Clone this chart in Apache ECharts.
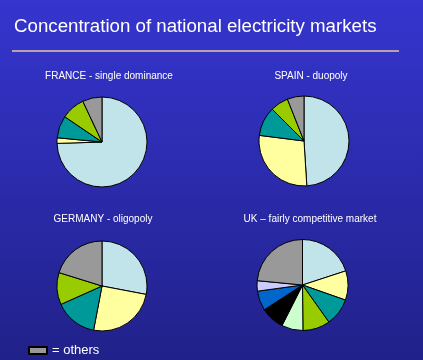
<!DOCTYPE html>
<html><head><meta charset="utf-8">
<script src="https://cdn.jsdelivr.net/npm/echarts@6/dist/echarts.min.js"></script>
<style>html,body{margin:0;padding:0;background:#2a2aa8}#c{width:423px;height:360px}</style>
</head><body><div id="c"></div>
<script>
const mainTitle = 'Concentration of national electricity markets';
const pieTitles = ['FRANCE - single dominance', 'SPAIN - duopoly', 'GERMANY - oligopoly', 'UK \u2013 fairly competitive market'];
const franceNames = ['Firm 1', 'Firm 2', 'Firm 3', 'Firm 4', 'others'];
const franceValues = [74.5, 2, 8, 8.5, 7];
const spainNames = ['Firm 1', 'Firm 2', 'Firm 3', 'Firm 4', 'others'];
const spainValues = [49, 28, 10.5, 6.5, 6];
const germanyNames = ['Firm 1', 'Firm 2', 'Firm 3', 'Firm 4', 'others'];
const germanyValues = [28, 25, 15.3, 11.5, 20.2];
const ukNames = ['Firm 1', 'Firm 2', 'Firm 3', 'Firm 4', 'Firm 5', 'Firm 6', 'Firm 7', 'Firm 8', 'others'];
const ukValues = [20, 10.4, 9.8, 9.7, 7.6, 8.4, 7, 3.7, 23.5];
const legendLabel = '= others';

const sliceColors = ['#c0e4ea', '#ffffa0', '#009999', '#99cc00', '#ccffcc', '#000000', '#0066cc', '#ccccff'];
const othersColor = '#999999';

function buildData(names, values) {
  return names.map((n, i) => ({
    name: n, value: values[i],
    itemStyle: { color: n === 'others' ? othersColor : sliceColors[i] }
  }));
}

const pies = [
  { names: franceNames, values: franceValues, center: [102, 142], r: 45, tx: 109, ty: 71 },
  { names: spainNames, values: spainValues, center: [304, 141], r: 45, tx: 311, ty: 71 },
  { names: germanyNames, values: germanyValues, center: [102, 286], r: 45, tx: 103, ty: 214 },
  { names: ukNames, values: ukValues, center: [302.5, 285], r: 45.5, tx: 310, ty: 214 }
];

const chart = echarts.init(document.getElementById('c'), null, { renderer: 'canvas' });
const titles = [{
  text: mainTitle, left: 14, top: 17, padding: 0,
  textStyle: { color: '#ffffff', fontSize: 18.7, fontWeight: 'normal', fontFamily: 'Liberation Sans, Arial, sans-serif' }
}];
pies.forEach((p, i) => titles.push({
  text: pieTitles[i], left: p.tx, top: p.ty, padding: 0, textAlign: 'center',
  textStyle: { color: '#ffffff', fontSize: 10, fontWeight: 'normal', fontFamily: 'Liberation Sans, Arial, sans-serif' }
}));

chart.setOption({
  animation: false,
  backgroundColor: {
    type: 'linear', x: 0, y: 0, x2: 0, y2: 1,
    colorStops: [{ offset: 0, color: '#3535cf' }, { offset: 1, color: '#21218a' }]
  },
  title: titles,
  graphic: [
    { type: 'line', shape: { x1: 12, y1: 51, x2: 399, y2: 51 }, style: { stroke: '#e6c6a4', lineWidth: 1.5 } }
  ],
  legend: {
    data: ['others'], left: 28, top: 344, padding: 0, icon: 'rect',
    itemWidth: 18, itemHeight: 7, itemGap: 6,
    formatter: () => legendLabel,
    selectedMode: false,
    textStyle: { color: '#ffffff', fontSize: 13, fontFamily: 'Liberation Sans, Arial, sans-serif' }
  },
  series: pies.map(p => ({
    type: 'pie', center: p.center, radius: [0, p.r], startAngle: 90, clockwise: true,
    label: { show: false }, labelLine: { show: false }, silent: true,
    itemStyle: { borderColor: '#000000', borderWidth: 1 },
    data: buildData(p.names, p.values)
  }))
});
</script></body></html>
